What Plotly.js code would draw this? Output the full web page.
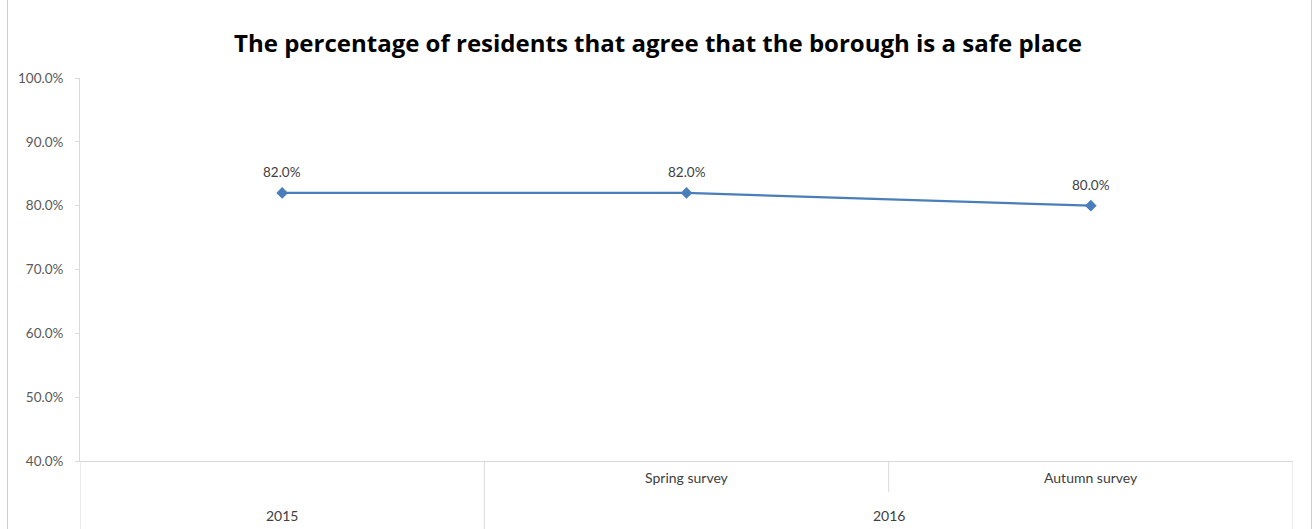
<!DOCTYPE html>
<html>
<head>
<meta charset="utf-8">
<script src="https://cdn.plot.ly/plotly-3.0.1.min.js"></script>
<style>
  html, body { margin: 0; padding: 0; background: #ffffff; }
  #wrap { position: relative; width: 1316px; height: 529px; overflow: hidden; }
  #chart { position: absolute; left: 0; top: 0; width: 1316px; height: 529px; }
  #frame { position: absolute; left: 7px; top: -2px; width: 1303px; height: 540px; border: 1px solid #d0d0d0; pointer-events: none; }
</style>
</head>
<body>
<div id="wrap">
  <div id="chart"></div>
  <div id="frame"></div>
</div>
<script>
const categories = ["2015", "Spring survey 2016", "Autumn survey 2016"];
const subLabels = ["", "Spring survey", "Autumn survey"];
const groupLabels = ["2015", "2016"];
const values = [82.0, 82.0, 80.0];
const yTicks = [40, 50, 60, 70, 80, 90, 100];
const yTickText = ["40.0%", "50.0%", "60.0%", "70.0%", "80.0%", "90.0%", "100.0%"];

const xIdx = categories.map((c, i) => i);
const labelText = values.map(v => v.toFixed(1) + "%");

const trace = {
  x: xIdx,
  y: values,
  type: "scatter",
  mode: "lines+markers",
  line: { color: "#4a7ebb", width: 2.25 },
  marker: { symbol: "diamond", size: 9, color: "#4a7ebb" },
  cliponaxis: false,
  hoverinfo: "skip",
  showlegend: false
};

const axisGray = "#d9d9d9";
const bottomY = -68 / 383;
const level1Y = -31 / 383;

const shapes = [
  { type: "line", xref: "x", yref: "paper", x0: -0.5, x1: -0.5, y0: 0, y1: bottomY, line: { color: axisGray, width: 1 } },
  { type: "line", xref: "x", yref: "paper", x0: 0.5, x1: 0.5, y0: 0, y1: bottomY, line: { color: axisGray, width: 1 } },
  { type: "line", xref: "x", yref: "paper", x0: 1.5, x1: 1.5, y0: 0, y1: level1Y, line: { color: axisGray, width: 1 } },
  { type: "line", xref: "x", yref: "paper", x0: 2.5, x1: 2.5, y0: 0, y1: bottomY, line: { color: axisGray, width: 1 } }
];

const smallFont = "Lato, sans-serif";
const annFont = { family: smallFont, size: 14, color: "#404040" };
const annotations = [];
values.forEach((v, i) => {
  annotations.push({ xref: "x", yref: "y", x: xIdx[i], y: v, text: labelText[i], showarrow: false,
    yshift: 21, yanchor: "middle", font: { family: smallFont, size: 13.5, color: "#404040" } });
});
subLabels.forEach((s, i) => {
  if (s) annotations.push({ xref: "x", yref: "paper", x: i, y: -16 / 383, text: s, showarrow: false, font: annFont, yanchor: "middle" });
});
annotations.push({ xref: "x", yref: "paper", x: 0, y: -54 / 383, text: groupLabels[0], showarrow: false, font: annFont, yanchor: "middle" });
annotations.push({ xref: "x", yref: "paper", x: 1.5, y: -54 / 383, text: groupLabels[1], showarrow: false, font: annFont, yanchor: "middle" });

const layout = {
  width: 1316,
  height: 529,
  margin: { l: 80, r: 23, t: 78, b: 68 },
  paper_bgcolor: "#ffffff",
  plot_bgcolor: "#ffffff",
  title: {
    text: "<b>The percentage of residents that agree that the borough is a safe place</b>",
    font: { family: "Open Sans, sans-serif", size: 24, color: "#000000" },
    x: 658 / 1316, xref: "container", xanchor: "center",
    y: 1 - 44 / 529, yref: "container", yanchor: "middle"
  },
  xaxis: {
    type: "linear",
    range: [-0.5, 2.5],
    showticklabels: false,
    showgrid: false,
    zeroline: false,
    showline: true,
    linecolor: axisGray,
    linewidth: 1,
    ticks: "",
    fixedrange: true
  },
  yaxis: {
    range: [40, 100],
    tickmode: "array",
    tickvals: yTicks,
    ticktext: yTickText,
    showgrid: false,
    zeroline: false,
    showline: true,
    linecolor: axisGray,
    linewidth: 1,
    ticks: "outside",
    ticklen: 4,
    tickcolor: axisGray,
    ticklabelstandoff: 9,
    tickfont: { family: smallFont, size: 13.5, color: "#595959" },
    fixedrange: true
  },
  shapes: shapes,
  annotations: annotations
};

Plotly.newPlot("chart", [trace], layout, { displayModeBar: false, staticPlot: true });
</script>
</body>
</html>
